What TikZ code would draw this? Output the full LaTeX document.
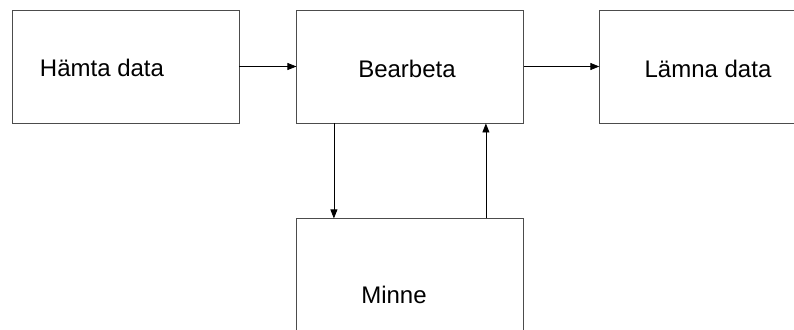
\documentclass[tikz,border=0pt]{standalone}
\usepackage{fontspec}
\setmainfont{Liberation Sans}
\usetikzlibrary{positioning,arrows.meta}

\begin{document}
\begin{tikzpicture}[
        x=1pt, y=-1pt,
        box_style/.style={draw=black!70, fill=white, rectangle, minimum width=227pt, minimum height=113pt, inner sep=0pt, line width=0.9pt},
        text_style/.style={font=\fontsize{24}{29}\selectfont, anchor=base, inner sep=0pt},
        edge_style/.style={-{Triangle[length=9pt,width=7pt]}, line width=0.8pt}
    ]
    \clip (0,0) rectangle (794,329);

    % Top row
    \node[box_style] (hamta) at (125.5,66.5) {};
    \node[box_style, right=57pt of hamta] (bearbeta) {};
    \node[box_style, right=75pt of bearbeta] (lamna) {};

    % Memory below
    \node[box_style, below=95pt of bearbeta] (minne) {};

    % Labels
    \node[text_style] (t_hamta) at (102,76) {Hämta data};
    \node[text_style] (t_bearbeta) at (407,77) {Bearbeta};
    \node[text_style] (t_lamna) at (708,77) {Lämna data};
    \node[text_style] (t_minne) at (394,303) {Minne};

    % Edges along the top row
    \draw[edge_style] (hamta) -- (bearbeta);
    \draw[edge_style] (bearbeta) -- (lamna);

    % Edges to and from memory
    \draw[edge_style] ([xshift=-76.5pt]bearbeta.south) -- ([xshift=-76.5pt]minne.north);
    \draw[edge_style] ([xshift=75.5pt]minne.north) -- ([xshift=75.5pt]bearbeta.south);

\end{tikzpicture}
\end{document}
